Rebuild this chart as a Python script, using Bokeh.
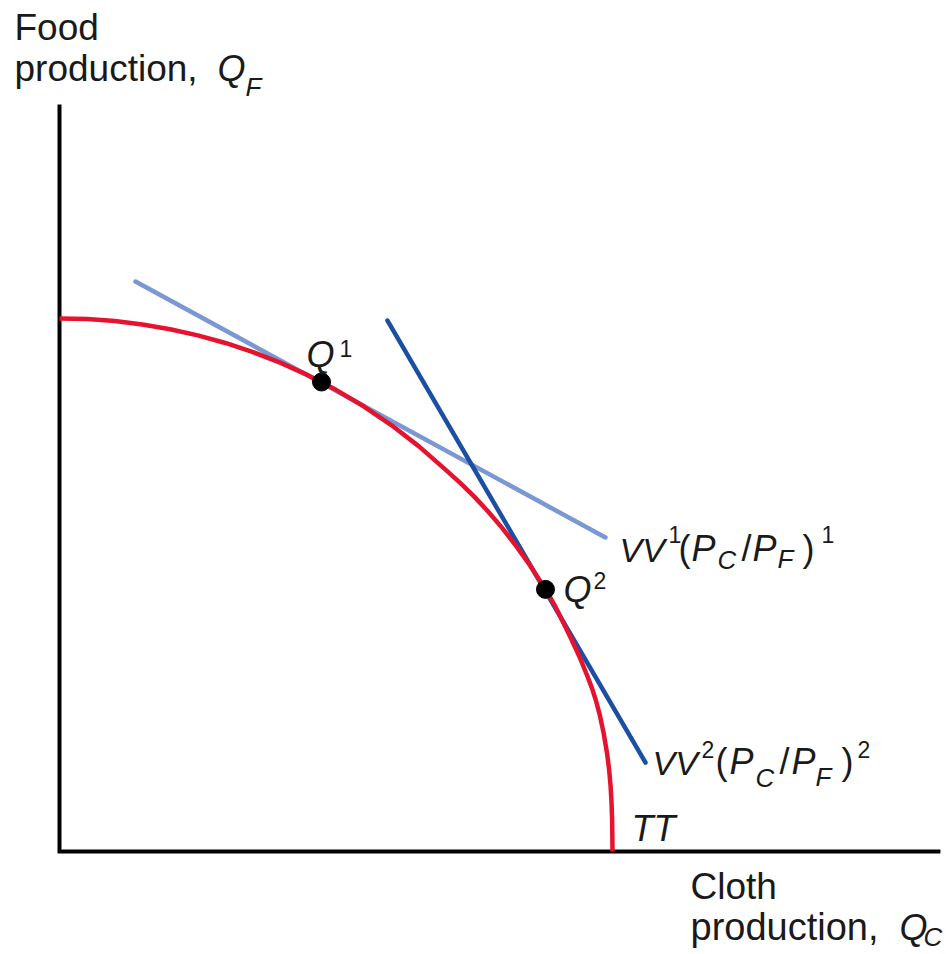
from bokeh.plotting import figure
from bokeh.models import Range1d
from bokeh.core.properties import value
from bokeh.embed import file_html
from bokeh.resources import INLINE

# ---------------- data ----------------
# transformation curve TT (cloth on x, food on y)
tt_x = [0.0, 0.5, 1.0, 1.5, 2.0, 2.5, 3.0, 3.5, 4.0, 4.5, 5.0, 5.5, 6.0, 6.5,
        7.0, 7.25, 7.5, 7.75, 8.0, 8.25, 8.5, 8.788, 8.95, 9.096, 9.25, 9.421,
        9.55, 9.633, 9.70, 9.77, 9.84, 9.904, 9.94, 9.964, 9.982, 9.994, 10.0]
tt_y = [9.640, 9.628, 9.592, 9.531, 9.445, 9.334, 9.196, 9.030, 8.835, 8.609,
        8.348, 8.051, 7.712, 7.326, 6.887, 6.662, 6.417, 6.149, 5.856, 5.536,
        5.186, 4.74, 4.46, 4.17, 3.85, 3.48, 3.16, 2.94, 2.73, 2.47, 2.14, 1.76,
        1.47, 1.20, 0.90, 0.55, 0.0]
# production points Q1, Q2
q_x = [4.738, 8.788]
q_y = [8.49, 4.74]
# iso-value lines
vv1_x = [1.374, 9.873]
vv1_y = [10.307, 5.678]
vv2_x = [5.931, 10.597]
vv2_y = [9.602, 1.609]
# axis extents
axis_x_end = 15.93
axis_y_end = 13.51

# ---------------- layout ----------------
W, H = 949, 954
UNIT = 55.3            # px per data unit
OX, OY = 59, 851       # origin in page pixels
X0 = -OX / UNIT
Y1 = OY / UNIT

def dx(px):
    return (px - OX) / UNIT

def dy(py):
    return (OY - py) / UNIT

p = figure(width=W, height=H, output_backend="svg", toolbar_location=None,
           x_range=Range1d(X0, X0 + W / UNIT), y_range=Range1d(Y1 - H / UNIT, Y1),
           x_axis_location=None, y_axis_location=None, min_border=0,
           background_fill_color="white", border_fill_color="white")
p.outline_line_color = None
p.grid.visible = False

RED = "#e5132d"
LBLUE = "#7b97d4"
DBLUE = "#1a4fa3"

# axes
p.line([0, 0, axis_x_end], [axis_y_end, 0, 0], line_color="black", line_width=4,
       line_join="miter", line_cap="butt")

# value lines
p.line(vv1_x, vv1_y, line_color=LBLUE, line_width=4.5, line_cap="round")
p.line(vv2_x, vv2_y, line_color=DBLUE, line_width=4.5, line_cap="round")

# TT curve
p.line(tt_x, tt_y, line_color=RED, line_width=4.5, line_join="round")

# points
p.scatter(q_x, q_y, size=18, color="black")

FONT = value("Liberation Sans")
BIG = 36
SUB = 26
SUP = 23

def t(px, py, txt, size=BIG, italic=False):
    # empirical correction so that py is the alphabetic baseline
    yy = py - 0.38 * size
    p.text(x=[dx(px)], y=[dy(yy)], text=[txt], text_font=FONT,
           text_font_size=f"{size}px",
           text_font_style="italic" if italic else "normal", text_color="#1a1a1a",
           text_align="left", text_baseline="alphabetic")

# y-axis title
t(14, 41, "Food", 37)
t(14, 82, "production,", 37)
t(217, 82, "Q", italic=True)
t(245, 96, "F", SUB, italic=True)

# x-axis title
t(690, 900, "Cloth", 37)
t(690, 941, "production,", 38)
t(899, 941, "Q", italic=True)
t(923, 946, "C", SUB, italic=True)

# Q1 / Q2
t(306, 368, "Q", italic=True)
t(339, 357, "1", SUP)
t(563, 603, "Q", italic=True)
t(593, 589, "2", SUP)

# VV1 label
base1 = 562
t(619, base1, "VV", 34, italic=True)
t(668, 543, "1", SUP)
t(678, base1, "(")
t(691, base1, "P", italic=True)
t(717, 569, "C", SUB, italic=True)
t(741, base1, "/")
t(752, base1, "P", italic=True)
t(777, 568, "F", SUB, italic=True)
t(802, base1, ")")
t(821, 543, "1", SUP)

# VV2 label
base2 = 775
t(652, base2, "VV", 34, italic=True)
t(701, 758, "2", SUP)
t(715, base2, "(")
t(729, base2, "P", italic=True)
t(755, 787, "C", SUB, italic=True)
t(779, base2, "/")
t(791, base2, "P", italic=True)
t(815, 786, "F", SUB, italic=True)
t(841, base2, ")")
t(857, 758, "2", SUP)

# TT
t(631, 842, "TT", italic=True)

open("out.html", "w").write(file_html(p, INLINE))
